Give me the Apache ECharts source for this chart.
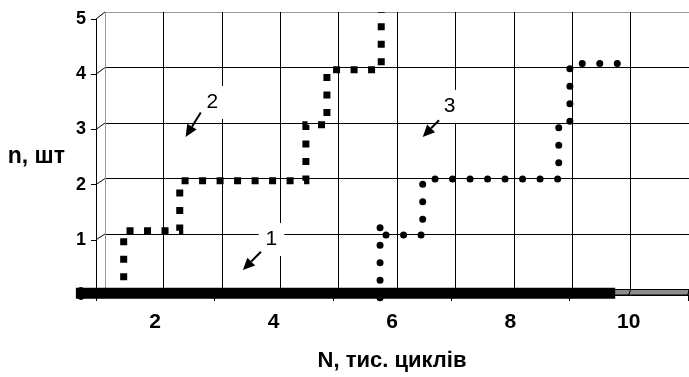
<!DOCTYPE html>
<html>
<head>
<meta charset="utf-8">
<script src="https://cdn.jsdelivr.net/npm/echarts@6/dist/echarts.min.js"></script>
<style>html,body{margin:0;padding:0;background:#fff}#c{width:689px;height:377px}</style>
</head>
<body>
<div id="c"></div>
<script>
// ---- data ----
const xTickLabels = [2, 4, 6, 8, 10];
const xTickMarks = [1, 3, 5, 7, 9, 11];
const yTickLabels = [0, 1, 2, 3, 4, 5];
// curve 1 (front plane)
const series1 = [[0.66, 0.06], [9.77, 0.06]];
// curve 2 (squares)
const series2 = [[1.32, -0.15], [1.32, 1.06], [2.28, 1.06], [2.28, 1.96], [4.44, 1.96], [4.44, 2.97],
                 [4.80, 2.97], [4.80, 3.96], [5.73, 3.96], [5.73, 5.0]];
// curve 3 (dots)
const series3 = [[5.71, -0.15], [5.71, 1.15], [5.71, 0.98], [6.44, 0.98], [6.44, 1.99], [8.77, 1.99],
                 [8.77, 2.97], [8.96, 2.97], [8.96, 4.07], [9.92, 4.07]];
// annotation labels: text, label pos, arrow start, arrow end (back-wall coords)
const annoText = ['1', '2', '3'];
const annoLabel = [[3.85, 0.90], [2.84, 3.37], [6.90, 3.30]];
const annoFrom = [[3.67, 0.68], [2.64, 3.19], [6.72, 3.05]];
const annoTo = [[3.36, 0.35], [2.38, 2.75], [6.44, 2.75]];

const FONT = '"Liberation Sans", Arial, sans-serif';
const chart = echarts.init(document.getElementById('c'), null, {renderer: 'canvas'});

const xSplitColors = ['#999'].concat(new Array(10).fill('#000'));
const ySplitColors = new Array(5).fill('#000').concat(['#999']);
const UNIT = 59.2;

const hiddenAxis = {axisLine: {show: false}, axisTick: {show: false}, axisLabel: {show: false}, splitLine: {show: false}};

chart.setOption({
  animation: false,
  grid: [
    {left: 105, top: 12, width: UNIT * 10, height: 277.5},
    {left: 96, top: 19, width: UNIT * 10, height: 277.5},
    {left: 96 - UNIT, top: 19, width: UNIT * 11, height: 277.5}
  ],
  xAxis: [
    {gridIndex: 0, type: 'value', min: 1, max: 11, interval: 1,
     axisLine: {show: false}, axisTick: {show: false}, axisLabel: {show: false},
     splitLine: {show: true, lineStyle: {color: xSplitColors, width: 1}}},
    {gridIndex: 1, type: 'value', min: 1, max: 11, interval: 1,
     axisLine: {show: true, onZero: false, lineStyle: {color: '#000', width: 1}},
     axisTick: {show: true, customValues: xTickMarks, length: 6, lineStyle: {color: '#000'}},
     axisLabel: {show: true, customValues: xTickLabels, margin: 17,
                 fontFamily: FONT, fontWeight: 'bold', fontSize: 21, color: '#000'},
     splitLine: {show: false},
     name: 'N, тис. циклів', nameLocation: 'middle', nameGap: 55,
     nameTextStyle: {fontFamily: FONT, fontWeight: 'bold', fontSize: 22, color: '#000'}},
    Object.assign({gridIndex: 2, type: 'value', min: 0, max: 11, interval: 1}, hiddenAxis)
  ],
  yAxis: [
    {gridIndex: 0, type: 'value', min: 0, max: 5, interval: 1,
     axisLine: {show: false}, axisTick: {show: false}, axisLabel: {show: false},
     splitLine: {show: true, lineStyle: {color: ySplitColors, width: 1}}},
    {gridIndex: 1, type: 'value', min: 0, max: 5, interval: 1,
     axisLine: {show: true, onZero: false, lineStyle: {color: '#000', width: 1}},
     axisTick: {show: true, length: 5, lineStyle: {color: '#000'}},
     axisLabel: {show: true, margin: 10, fontFamily: FONT, fontWeight: 'bold', fontSize: 18, color: '#000',
                 formatter: v => yTickLabels.includes(v) ? String(v) : ''},
     splitLine: {show: false},
     name: 'n, шт', nameLocation: 'middle', nameGap: 31, nameRotate: 0,
     nameTextStyle: {fontFamily: FONT, fontWeight: 'bold', fontSize: 23, color: '#000', padding: [8, 0, 0, 0]}},
    Object.assign({gridIndex: 2, type: 'value', min: 0, max: 5, interval: 1}, hiddenAxis)
  ],
  series: [
    {name: '2', type: 'line', xAxisIndex: 0, yAxisIndex: 0, data: series2, symbol: 'none', clip: false, z: 3,
     lineStyle: {color: '#000', width: 7, type: [7, 10.5], cap: 'butt', join: 'miter'}},
    {name: '3', type: 'line', xAxisIndex: 0, yAxisIndex: 0, data: series3, symbol: 'none', clip: false, z: 3,
     lineStyle: {color: '#000', width: 7, type: [0.01, 17.5], cap: 'round'}},
    {name: '1', type: 'line', xAxisIndex: 2, yAxisIndex: 2, data: series1, symbol: 'none', clip: false,
     zlevel: 1, z: 5,
     lineStyle: {color: '#000', width: 11, cap: 'butt'}}
  ]
});

function build() {
  const g = [];
  const back = p => chart.convertToPixel({gridIndex: 0}, p);
  const front = p => chart.convertToPixel({gridIndex: 1}, p);
  // floor
  const f0 = front([1, 0]), f1 = front([11, 0]), b0 = back([1, 0]), b1 = back([11, 0]);
  g.push({type: 'polygon', z: 4, shape: {points: [f0, f1, b1, b0]},
          style: {fill: '#8c8c8c', stroke: '#000', lineWidth: 1}});
  for (let v = 1; v <= 11; v++) {
    const a = front([v, 0]), b = back([v, 0]);
    g.push({type: 'line', z: 4, shape: {x1: a[0], y1: a[1], x2: b[0], y2: b[1]}, style: {stroke: '#000', lineWidth: 1}});
  }
  // wall connectors
  for (let v = 0; v <= 5; v++) {
    const a = front([1, v]), b = back([1, v]);
    g.push({type: 'line', z: 4, shape: {x1: a[0], y1: a[1], x2: b[0], y2: b[1]}, style: {stroke: '#000', lineWidth: 1}});
  }
  // annotations
  for (let i = 0; i < annoText.length; i++) {
    const p = back(annoLabel[i]);
    g.push({type: 'text', z: 6, x: p[0], y: p[1],
            style: {text: annoText[i], fontFamily: FONT, fontSize: 21, fill: '#000',
                    align: 'center', verticalAlign: 'middle',
                    backgroundColor: '#fff', padding: [6, 7, 6, 7]}});
    const s = back(annoFrom[i]), e = back(annoTo[i]);
    const dx = e[0] - s[0], dy = e[1] - s[1], L = Math.hypot(dx, dy);
    const ux = dx / L, uy = dy / L, hl = 12, hw = 5.5;
    const bx = e[0] - ux * hl, by = e[1] - uy * hl;
    g.push({type: 'line', z: 6, shape: {x1: s[0], y1: s[1], x2: bx, y2: by}, style: {stroke: '#000', lineWidth: 2}});
    g.push({type: 'polygon', z: 6, shape: {points: [[e[0], e[1]], [bx - uy * hw, by + ux * hw], [bx + uy * hw, by - ux * hw]]},
            style: {fill: '#000'}});
  }
  chart.setOption({graphic: {elements: g}});
}
build();
</script>
</body>
</html>
